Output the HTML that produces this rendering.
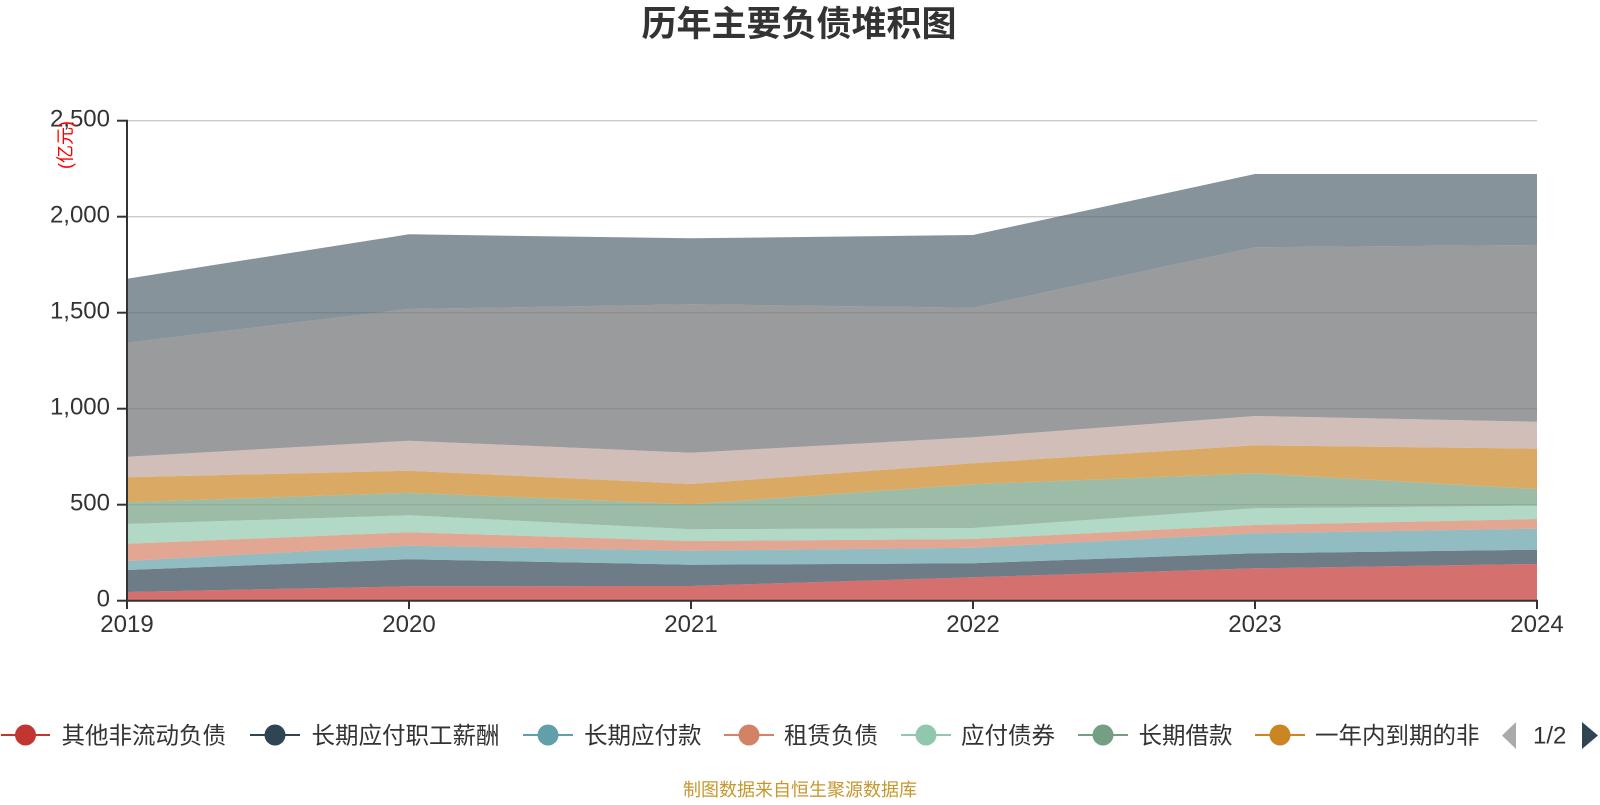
<!DOCTYPE html>
<html>
<head>
<meta charset="utf-8">
<style>
  html, body { margin: 0; padding: 0; background: #ffffff; }
  body { width: 1600px; height: 800px; overflow: hidden; }
  svg text { font-family: "Liberation Sans", "Noto Sans CJK SC", sans-serif; }
</style>
</head>
<body>
<svg width="1600" height="800" viewBox="0 0 1600 800" xmlns="http://www.w3.org/2000/svg">
  <rect x="0" y="0" width="1600" height="800" fill="#ffffff"/>

  <!-- Title -->
  <text x="799" y="36" text-anchor="middle" font-size="35" font-weight="bold" fill="#333333">历年主要负债堆积图</text>

  <!-- Grid lines -->
  <g stroke="#cccccc" stroke-width="1.3">
    <line x1="127" y1="120.7" x2="1537" y2="120.7"/>
    <line x1="127" y1="216.7" x2="1537" y2="216.7"/>
    <line x1="127" y1="312.7" x2="1537" y2="312.7"/>
    <line x1="127" y1="408.7" x2="1537" y2="408.7"/>
    <line x1="127" y1="504.7" x2="1537" y2="504.7"/>
  </g>

  <!-- Stacked areas -->
  <g fill-opacity="0.7" stroke="none">
    <polygon fill="#c23531" points="127,592 409,586.3 691,586 973,577.3 1255,568.3 1537,564 1537,600.5 127,600.5"/>
    <polygon fill="#2f4554" points="127,570 409,559.3 691,564.7 973,563.3 1255,553.3 1537,549.7 1537,564 1255,568.3 973,577.3 691,586 409,586.3 127,592"/>
    <polygon fill="#61a0a8" points="127,561 409,545.7 691,550.7 973,547.7 1255,533.3 1537,528.7 1537,549.7 1255,553.3 973,563.3 691,564.7 409,559.3 127,570"/>
    <polygon fill="#d48265" points="127,543.7 409,532.3 691,541 973,539 1255,525 1537,519 1537,528.7 1255,533.3 973,547.7 691,550.7 409,545.7 127,561"/>
    <polygon fill="#91c7ae" points="127,524 409,515.3 691,529.3 973,528 1255,508.3 1537,505.7 1537,519 1255,525 973,539 691,541 409,532.3 127,543.7"/>
    <polygon fill="#749f83" points="127,502.3 409,492.7 691,504.3 973,484.3 1255,473.3 1537,489 1537,505.7 1255,508.3 973,528 691,529.3 409,515.3 127,524"/>
    <polygon fill="#ca8622" points="127,477.3 409,470.7 691,484 973,463.3 1255,445.3 1537,448.7 1537,489 1255,473.3 973,484.3 691,504.3 409,492.7 127,502.3"/>
    <polygon fill="#bda29a" points="127,456.7 409,440.7 691,452.7 973,437.3 1255,416 1537,421.7 1537,448.7 1255,445.3 973,463.3 691,484 409,470.7 127,477.3"/>
    <polygon fill="#6e7074" points="127,342.7 409,309 691,304.3 973,307.7 1255,247.3 1537,245 1537,421.7 1255,416 973,437.3 691,452.7 409,440.7 127,456.7"/>
    <polygon fill="#546570" points="127,278.7 409,234.3 691,238.3 973,235 1255,174 1537,174 1537,245 1255,247.3 973,307.7 691,304.3 409,309 127,342.7"/>
  </g>

  <!-- Axes -->
  <g stroke="#333333" stroke-width="2">
    <line x1="127" y1="119.7" x2="127" y2="601"/>
    <line x1="126" y1="600.7" x2="1538" y2="600.7"/>
    <!-- y ticks -->
    <line x1="117" y1="120.7" x2="127" y2="120.7"/>
    <line x1="117" y1="216.7" x2="127" y2="216.7"/>
    <line x1="117" y1="312.7" x2="127" y2="312.7"/>
    <line x1="117" y1="408.7" x2="127" y2="408.7"/>
    <line x1="117" y1="504.7" x2="127" y2="504.7"/>
    <line x1="117" y1="600.7" x2="127" y2="600.7"/>
    <!-- x ticks -->
    <line x1="127" y1="600" x2="127" y2="609"/>
    <line x1="409" y1="600" x2="409" y2="609"/>
    <line x1="691" y1="600" x2="691" y2="609"/>
    <line x1="973" y1="600" x2="973" y2="609"/>
    <line x1="1255" y1="600" x2="1255" y2="609"/>
    <line x1="1537" y1="600" x2="1537" y2="609"/>
  </g>

  <!-- Y labels -->
  <g font-size="24" fill="#333333" text-anchor="end">
    <text x="110" y="126.5">2,500</text>
    <text x="110" y="222.5">2,000</text>
    <text x="110" y="318.5">1,500</text>
    <text x="110" y="414.5">1,000</text>
    <text x="110" y="510.5">500</text>
    <text x="110" y="606.5">0</text>
  </g>

  <!-- Y axis name -->
  <text x="0" y="0" font-size="18" fill="#ff0000" text-anchor="middle" transform="translate(71.5,145) rotate(-90)">(亿元)</text>

  <!-- X labels -->
  <g font-size="24" fill="#333333" text-anchor="middle">
    <text x="127" y="632">2019</text>
    <text x="409" y="632">2020</text>
    <text x="691" y="632">2021</text>
    <text x="973" y="632">2022</text>
    <text x="1255" y="632">2023</text>
    <text x="1537" y="632">2024</text>
  </g>

  <!-- Legend -->
  <g font-size="23.5" fill="#333333">
    <line x1="1" y1="735" x2="50" y2="735" stroke="#c23531" stroke-width="2"/>
    <circle cx="25.5" cy="735" r="10.5" fill="#c23531"/>
    <text x="61.5" y="743.5">其他非流动负债</text>

    <line x1="250" y1="735" x2="300" y2="735" stroke="#2f4554" stroke-width="2"/>
    <circle cx="275" cy="735" r="10.5" fill="#2f4554"/>
    <text x="311.5" y="743.5">长期应付职工薪酬</text>

    <line x1="523" y1="735" x2="573" y2="735" stroke="#61a0a8" stroke-width="2"/>
    <circle cx="548" cy="735" r="10.5" fill="#61a0a8"/>
    <text x="584" y="743.5">长期应付款</text>

    <line x1="724" y1="735" x2="774" y2="735" stroke="#d48265" stroke-width="2"/>
    <circle cx="749" cy="735" r="10.5" fill="#d48265"/>
    <text x="784" y="743.5">租赁负债</text>

    <line x1="901" y1="735" x2="951" y2="735" stroke="#91c7ae" stroke-width="2"/>
    <circle cx="926" cy="735" r="10.5" fill="#91c7ae"/>
    <text x="961" y="743.5">应付债券</text>

    <line x1="1078" y1="735" x2="1128" y2="735" stroke="#749f83" stroke-width="2"/>
    <circle cx="1103" cy="735" r="10.5" fill="#749f83"/>
    <text x="1138.5" y="743.5">长期借款</text>

    <line x1="1255" y1="735" x2="1305" y2="735" stroke="#ca8622" stroke-width="2"/>
    <circle cx="1280" cy="735" r="10.5" fill="#ca8622"/>
    <text x="1315" y="743.5">一年内到期的非</text>

    <!-- pager -->
    <polygon points="1516,722 1516,749 1502,735.5" fill="#aaaaaa"/>
    <text x="1533" y="743.5" font-size="24">1/2</text>
    <polygon points="1582,722 1582,749 1598,735.5" fill="#2f4554"/>
  </g>

  <!-- Footer -->
  <text x="800" y="796" font-size="18" fill="#c8962d" text-anchor="middle">制图数据来自恒生聚源数据库</text>
</svg>
</body>
</html>
